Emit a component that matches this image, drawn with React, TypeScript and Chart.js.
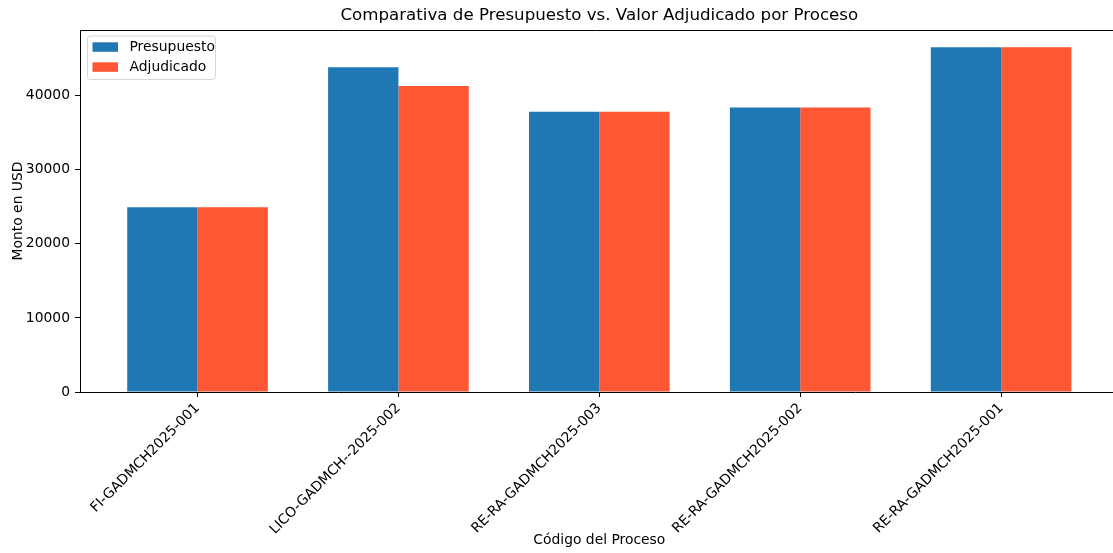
import React, { useEffect, useRef } from 'react';
import { Chart, registerables } from 'chart.js';

Chart.register(...registerables);

const categories = [
  'FI-GADMCH2025-001',
  'LICO-GADMCH--2025-002',
  'RE-RA-GADMCH2025-003',
  'RE-RA-GADMCH2025-002',
  'RE-RA-GADMCH2025-001',
];
const presupuesto = [24950, 43850, 37850, 38400, 46550];
const adjudicado = [24950, 41300, 37850, 38400, 46550];
const yTicks = [0, 10000, 20000, 30000, 40000];

const seriesNames = ['Presupuesto', 'Adjudicado'];
const seriesColors = ['#1f77b4', '#FF5733'];

const FONT = 'DejaVu Sans';

const textPlugin = {
  id: 'mplText',
  afterDraw(chart: any) {
    const ctx = chart.ctx;
    const ca = chart.chartArea;
    ctx.save();
    // top spine
    ctx.strokeStyle = '#000';
    ctx.lineWidth = 1;
    ctx.beginPath();
    ctx.moveTo(ca.left, ca.top + 0.5);
    ctx.lineTo(ca.right, ca.top + 0.5);
    ctx.stroke();

    // title
    const xs = chart.scales.x;
    const centerX = (xs.getPixelForValue(-0.585) + xs.getPixelForValue(4.585)) / 2;
    ctx.fillStyle = '#000';
    ctx.font = `16.67px "${FONT}"`;
    ctx.textAlign = 'center';
    ctx.textBaseline = 'middle';
    ctx.fillText('Comparativa de Presupuesto vs. Valor Adjudicado por Proceso', centerX, 16);

    // x label
    ctx.font = `13.89px "${FONT}"`;
    ctx.fillText('Código del Proceso', centerX, 540);

    // y label
    ctx.save();
    ctx.translate(18, (ca.top + ca.bottom) / 2);
    ctx.rotate(-Math.PI / 2);
    ctx.fillText('Monto en USD', 0, 0);
    ctx.restore();

    // legend
    const lx = 87.5, ly = 36, lw = 128, lh = 43.5;
    const r = 3;
    ctx.beginPath();
    ctx.moveTo(lx + r, ly);
    ctx.lineTo(lx + lw - r, ly);
    ctx.quadraticCurveTo(lx + lw, ly, lx + lw, ly + r);
    ctx.lineTo(lx + lw, ly + lh - r);
    ctx.quadraticCurveTo(lx + lw, ly + lh, lx + lw - r, ly + lh);
    ctx.lineTo(lx + r, ly + lh);
    ctx.quadraticCurveTo(lx, ly + lh, lx, ly + lh - r);
    ctx.lineTo(lx, ly + r);
    ctx.quadraticCurveTo(lx, ly, lx + r, ly);
    ctx.closePath();
    ctx.fillStyle = 'rgba(255,255,255,0.8)';
    ctx.fill();
    ctx.strokeStyle = '#d6d6d6';
    ctx.lineWidth = 1;
    ctx.stroke();

    ctx.textAlign = 'left';
    ctx.textBaseline = 'middle';
    seriesNames.forEach((name, i) => {
      const y = 47 + i * 20;
      ctx.fillStyle = seriesColors[i];
      ctx.fillRect(92.5, y - 4.7, 25.5, 9.5);
      ctx.fillStyle = '#000';
      ctx.fillText(name, 129.5, y);
    });
    ctx.restore();
  },
};

export default function App() {
  const canvasRef = useRef<HTMLCanvasElement | null>(null);

  useEffect(() => {
    const canvas = canvasRef.current;
    if (!canvas) return;
    const yMax = Math.max(...presupuesto, ...adjudicado) * 1.05;
    const chart = new Chart(canvas, {
      type: 'bar',
      data: {
        datasets: [
          {
            label: seriesNames[0],
            data: presupuesto.map((v, i) => ({ x: i, y: v })),
            backgroundColor: seriesColors[0],
            borderWidth: 0,
          },
          {
            label: seriesNames[1],
            data: adjudicado.map((v, i) => ({ x: i, y: v })),
            backgroundColor: seriesColors[1],
            borderWidth: 0,
          },
        ],
      },
      plugins: [textPlugin],
      options: {
        responsive: false,
        animation: false,
        events: [],
        layout: { padding: { top: 30, left: 0, right: 0, bottom: 0 } },
        datasets: {
          bar: { categoryPercentage: 0.7, barPercentage: 1.0 },
        } as any,
        plugins: {
          legend: { display: false },
          title: { display: false },
          tooltip: { enabled: false },
        },
        scales: {
          x: {
            type: 'linear',
            min: -0.585,
            max: 4.557,
            offset: false,
            afterBuildTicks: (scale: any) => {
              scale.ticks = categories.map((_, i) => ({ value: i }));
            },
            afterFit: (scale: any) => {
              scale.height = 161;
              scale.paddingLeft = 0;
              scale.paddingRight = 0;
            },
            grid: {
              offset: false,
              drawOnChartArea: false,
              drawTicks: true,
              tickLength: 5,
              color: '#000',
              lineWidth: 1,
            },
            border: { display: true, color: '#000', width: 1 },
            ticks: {
              autoSkip: false,
              minRotation: 45,
              maxRotation: 45,
              padding: 3,
              color: '#000',
              font: { family: FONT, size: 13.89 },
              callback: (value: any) => categories[value as number] ?? '',
            },
          },
          y: {
            type: 'linear',
            min: 0,
            max: yMax,
            afterBuildTicks: (scale: any) => {
              scale.ticks = yTicks.map((v) => ({ value: v }));
            },
            afterFit: (scale: any) => {
              scale.width = 80;
            },
            grid: {
              drawOnChartArea: false,
              drawTicks: true,
              tickLength: 5,
              color: '#000',
              lineWidth: 1,
            },
            border: { display: true, color: '#000', width: 1 },
            ticks: {
              padding: 5,
              color: '#000',
              font: { family: FONT, size: 13.89 },
              callback: (value: any) => String(value),
            },
          },
        },
      },
    });
    return () => chart.destroy();
  }, []);

  return (
    <div style={{ position: 'absolute', left: 0, top: 0, width: 1113, height: 553, background: '#fff' }}>
      <canvas ref={canvasRef} width={1113} height={553} style={{ display: 'block' }} />
    </div>
  );
}
